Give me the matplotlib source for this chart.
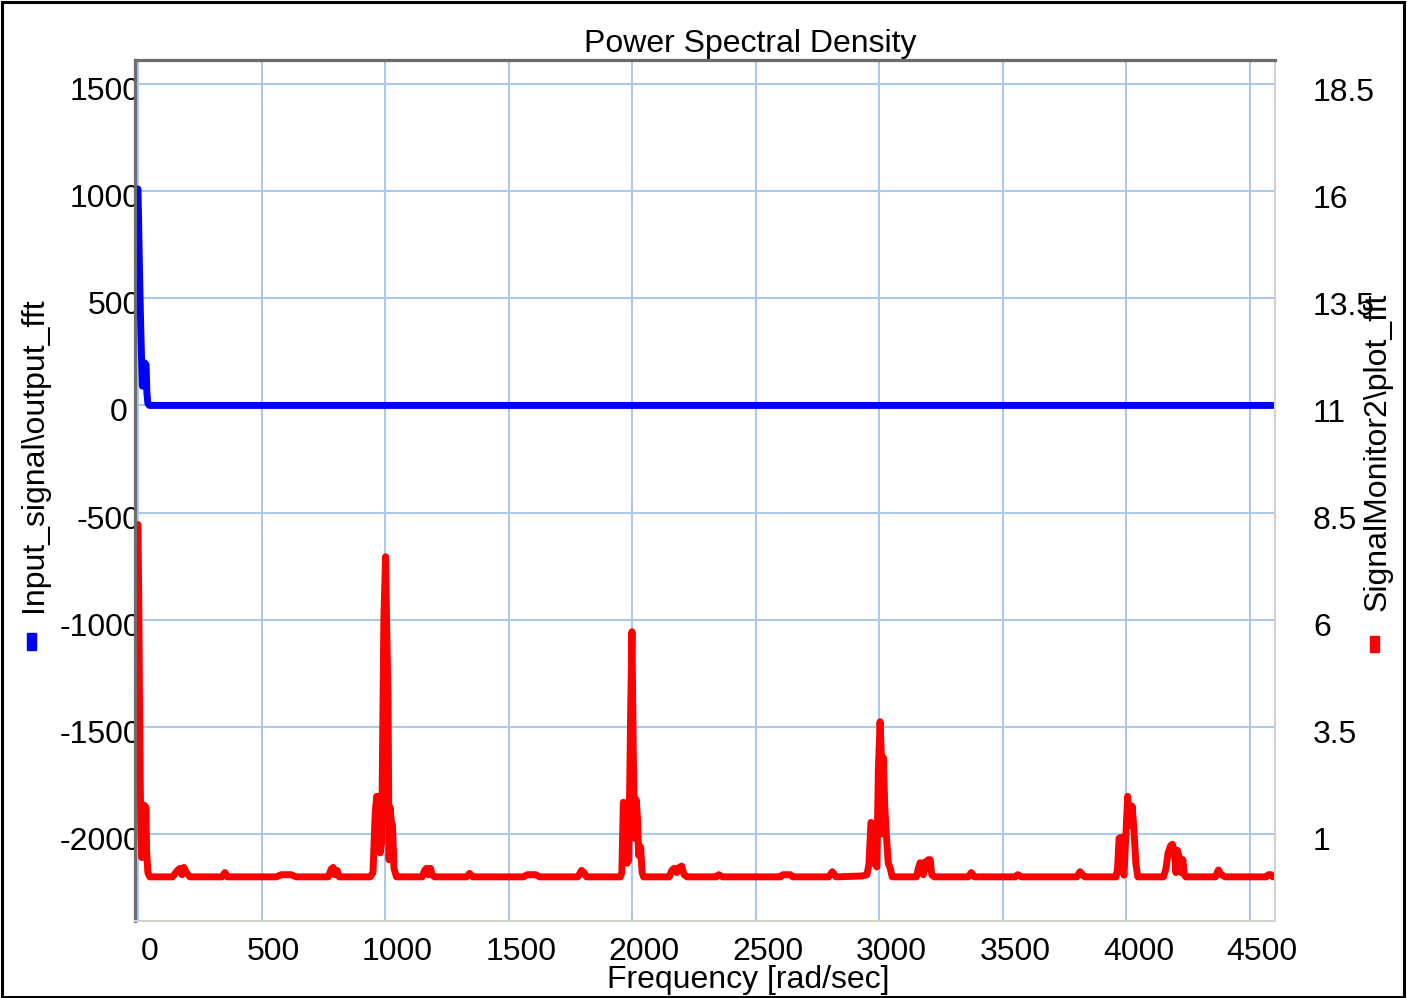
import matplotlib
matplotlib.use("Agg")
import matplotlib.pyplot as plt
from matplotlib.patches import Rectangle
from matplotlib.transforms import ScaledTranslation

W, H, DPI = 1407, 998, 100
FS = 23

# Input_signal\output_fft (left axis)
blue_freq = [0, 2, 5, 8, 12, 15, 18, 21, 24, 27, 30, 33, 36, 40, 46, 4593]
blue_psd = [1010, 900, 700, 525, 330, 200, 90, 180, 200, 90, 195, 190, 60, 10, 0, 0]

# SignalMonitor2\plot_fft (right axis)
red_freq = [0, 3, 6, 9, 12, 15, 19, 22, 26, 29, 32, 35, 40, 48,
            140, 160, 170, 178, 186, 196, 210, 340, 352, 362, 560, 580, 620, 640,
            770, 782, 790, 797, 806, 815,
            940, 951, 960, 966, 972, 980, 986, 995, 1002, 1006, 1012, 1016, 1020,
            1025, 1030, 1036, 1046,
            1150, 1160, 1168, 1175, 1184, 1190, 1200, 1330, 1342, 1355,
            1560, 1575, 1610, 1625, 1780, 1795, 1805, 1815,
            1952, 1958, 1964, 1972, 1980, 1986, 1994, 1999, 2004, 2010, 2016, 2022,
            2026, 2034, 2040, 2046,
            2150, 2160, 2170, 2180, 2190, 2200, 2210, 2222, 2340, 2350, 2365,
            2600, 2610, 2640, 2650, 2795, 2810, 2825,
            2930, 2950, 2958, 2966, 2974, 2982, 2990, 2996, 3003, 3008, 3012, 3016,
            3022, 3028, 3036, 3044, 3052,
            3150, 3158, 3165, 3172, 3178, 3185, 3192, 3198, 3206, 3212, 3222,
            3360, 3372, 3385, 3550, 3560, 3575, 3800, 3812, 3822, 3832,
            3958, 3964, 3970, 3978, 3984, 3990, 3996, 4005, 4011, 4018, 4023, 4030,
            4038, 4046,
            4150, 4160, 4168, 4178, 4186, 4194, 4200, 4206, 4214, 4222, 4228, 4234,
            4240, 4360, 4372, 4384, 4400, 4565, 4575, 4585, 4593]
red_psd = [8.22, 6.6, 4.2, 2.3, 1.0, 0.45, 0.6, 1.67, 1.67, 0.7, 1.62, 0.6, 0.1, 0.0,
           0.0, 0.15, 0.2, 0.05, 0.22, 0.1, 0.0, 0.0, 0.1, 0.0, 0.0, 0.05, 0.05, 0.0,
           0.0, 0.18, 0.22, 0.05, 0.15, 0.0,
           0.0, 0.1, 1.5, 1.88, 1.72, 0.56, 0.8, 6.0, 7.47, 6.0, 4.1, 0.4, 1.62,
           1.3, 1.2, 0.2, 0.0,
           0.0, 0.15, 0.2, 0.05, 0.2, 0.05, 0.0, 0.0, 0.08, 0.0,
           0.0, 0.05, 0.05, 0.0, 0.0, 0.15, 0.1, 0.0,
           0.0, 0.1, 1.74, 1.72, 0.32, 0.4, 4.0, 5.72, 3.0, 0.9, 1.8, 1.3,
           0.5, 0.7, 0.1, 0.0,
           0.0, 0.15, 0.2, 0.1, 0.22, 0.25, 0.05, 0.0, 0.0, 0.05, 0.0,
           0.0, 0.05, 0.05, 0.0, 0.0, 0.12, 0.0,
           0.02, 0.05, 0.3, 1.27, 1.22, 0.3, 0.23, 2.5, 3.62, 2.8, 1.0, 2.78,
           1.62, 1.0, 0.32, 0.2, 0.0,
           0.0, 0.2, 0.33, 0.3, 0.05, 0.35, 0.2, 0.4, 0.4, 0.05, 0.0,
           0.0, 0.1, 0.0, 0.0, 0.05, 0.0, 0.0, 0.12, 0.05, 0.0,
           0.0, 0.2, 0.9, 0.92, 0.2, 0.04, 0.8, 1.88, 1.4, 1.2, 1.65, 1.12,
           0.3, 0.0,
           0.0, 0.2, 0.55, 0.72, 0.76, 0.6, 0.1, 0.62, 0.45, 0.1, 0.4, 0.05,
           0.0, 0.0, 0.16, 0.05, 0.0, 0.0, 0.05, 0.05, 0.0]

x_ticks = [0, 500, 1000, 1500, 2000, 2500, 3000, 3500, 4000, 4500]
left_ticks = [-2000, -1500, -1000, -500, 0, 500, 1000, 1500]
right_ticks = [1, 3.5, 6, 8.5, 11, 13.5, 16, 18.5]
x_lim = (-12, 4601)
left_lim = (-2406, 1612)
# right scale is tied to the left one: right = 11 + left / 200
right_lim = (11 + left_lim[0] / 200, 11 + left_lim[1] / 200)

plt.rcParams['font.family'] = ['Liberation Sans', 'DejaVu Sans']

GRID = '#a9c9ef'
DARK_SPINE = '#6c6c6c'
LIGHT_SPINE = '#d6d2cb'


def fx(px):
    return px / W


def fy(py):
    return 1 - py / H


def shift(labels, dx, dy):
    for lb in labels:
        lb.set_transform(lb.get_transform() + ScaledTranslation(dx / DPI, -dy / DPI, fig.dpi_scale_trans))


fig = plt.figure(figsize=(W / DPI, H / DPI), dpi=DPI)
pos = [fx(135), fy(921), fx(1275) - fx(135), fy(60) - fy(921)]

# left tick labels sit underneath the plot area so the plot clips them
lab = fig.add_axes(pos, zorder=0)
lab.set_ylim(left_lim)
lab.set_yticks(left_ticks)
lab.set_yticklabels([str(t) for t in left_ticks])
lab.tick_params(axis='y', length=0, pad=-4.3, labelsize=FS)
lab.set_xticks([])
lab.patch.set_visible(False)
for s in lab.spines.values():
    s.set_visible(False)
shift(lab.get_yticklabels(), 0, 4.5)
# the single-digit zero label stays clear of the frame
shift([lb for lb in lab.get_yticklabels() if lb.get_text() == '0'], -13, 0)

ax = fig.add_axes(pos, zorder=1)
ax.set_facecolor('white')
ax.plot(blue_freq, blue_psd, color='#0000ff', lw=5,
        solid_joinstyle='round', solid_capstyle='round')
ax.set_xlim(x_lim)
ax.set_ylim(left_lim)
ax.set_xticks(x_ticks)
ax.set_xticklabels([str(t) for t in x_ticks])
ax.set_yticks(left_ticks)
ax.tick_params(axis='y', left=False, labelleft=False)
ax.tick_params(axis='x', length=0, pad=11.5, labelsize=FS)
ax.grid(True, color=GRID, lw=1.5)
for s in ax.spines.values():
    s.set_visible(False)
shift(ax.get_xticklabels(), 12, 0)

ax2 = fig.add_axes(pos, zorder=2)
ax2.patch.set_visible(False)
ax2.plot(red_freq, red_psd, color='#ff0000', lw=5,
         solid_joinstyle='round', solid_capstyle='round')
ax2.set_xlim(x_lim)
ax2.set_ylim(right_lim)
ax2.set_xticks([])
ax2.yaxis.tick_right()
ax2.set_yticks(right_ticks)
ax2.set_yticklabels([f'{t:g}' for t in right_ticks])
ax2.tick_params(axis='y', length=0, pad=27.4, labelsize=FS)
shift(ax2.get_yticklabels(), 0, 5)
for side in ('left', 'top'):
    ax2.spines[side].set_color(DARK_SPINE)
    ax2.spines[side].set_linewidth(2.3)
for side in ('right', 'bottom'):
    ax2.spines[side].set_color(LIGHT_SPINE)
    ax2.spines[side].set_linewidth(1.5)

fig.text(fx(750), fy(52), 'Power Spectral Density', ha='center', va='baseline', fontsize=FS)
fig.text(fx(748), fy(988), 'Frequency [rad/sec]', ha='center', va='baseline', fontsize=FS)
fig.text(fx(34), fy(455), 'Input_signal\\output_fft', rotation=90,
         ha='center', va='center', fontsize=FS)
fig.text(fx(1378), fy(452), 'SignalMonitor2\\plot_fft', rotation=90,
         ha='center', va='center', fontsize=FS)

# series colour keys next to the axis titles
fig.patches.append(Rectangle((fx(27), fy(650)), fx(9), 17 / H,
                             transform=fig.transFigure, color='#0000ff'))
fig.patches.append(Rectangle((fx(1370), fy(652)), fx(9), 16 / H,
                             transform=fig.transFigure, color='#ff0000'))

# frame around the whole figure
fig.patches.append(Rectangle((fx(1.5), fy(996.5)), fx(1402), 995 / H, fill=False,
                             ec='black', lw=2.2, transform=fig.transFigure))

fig.savefig('out.png', dpi=DPI)
